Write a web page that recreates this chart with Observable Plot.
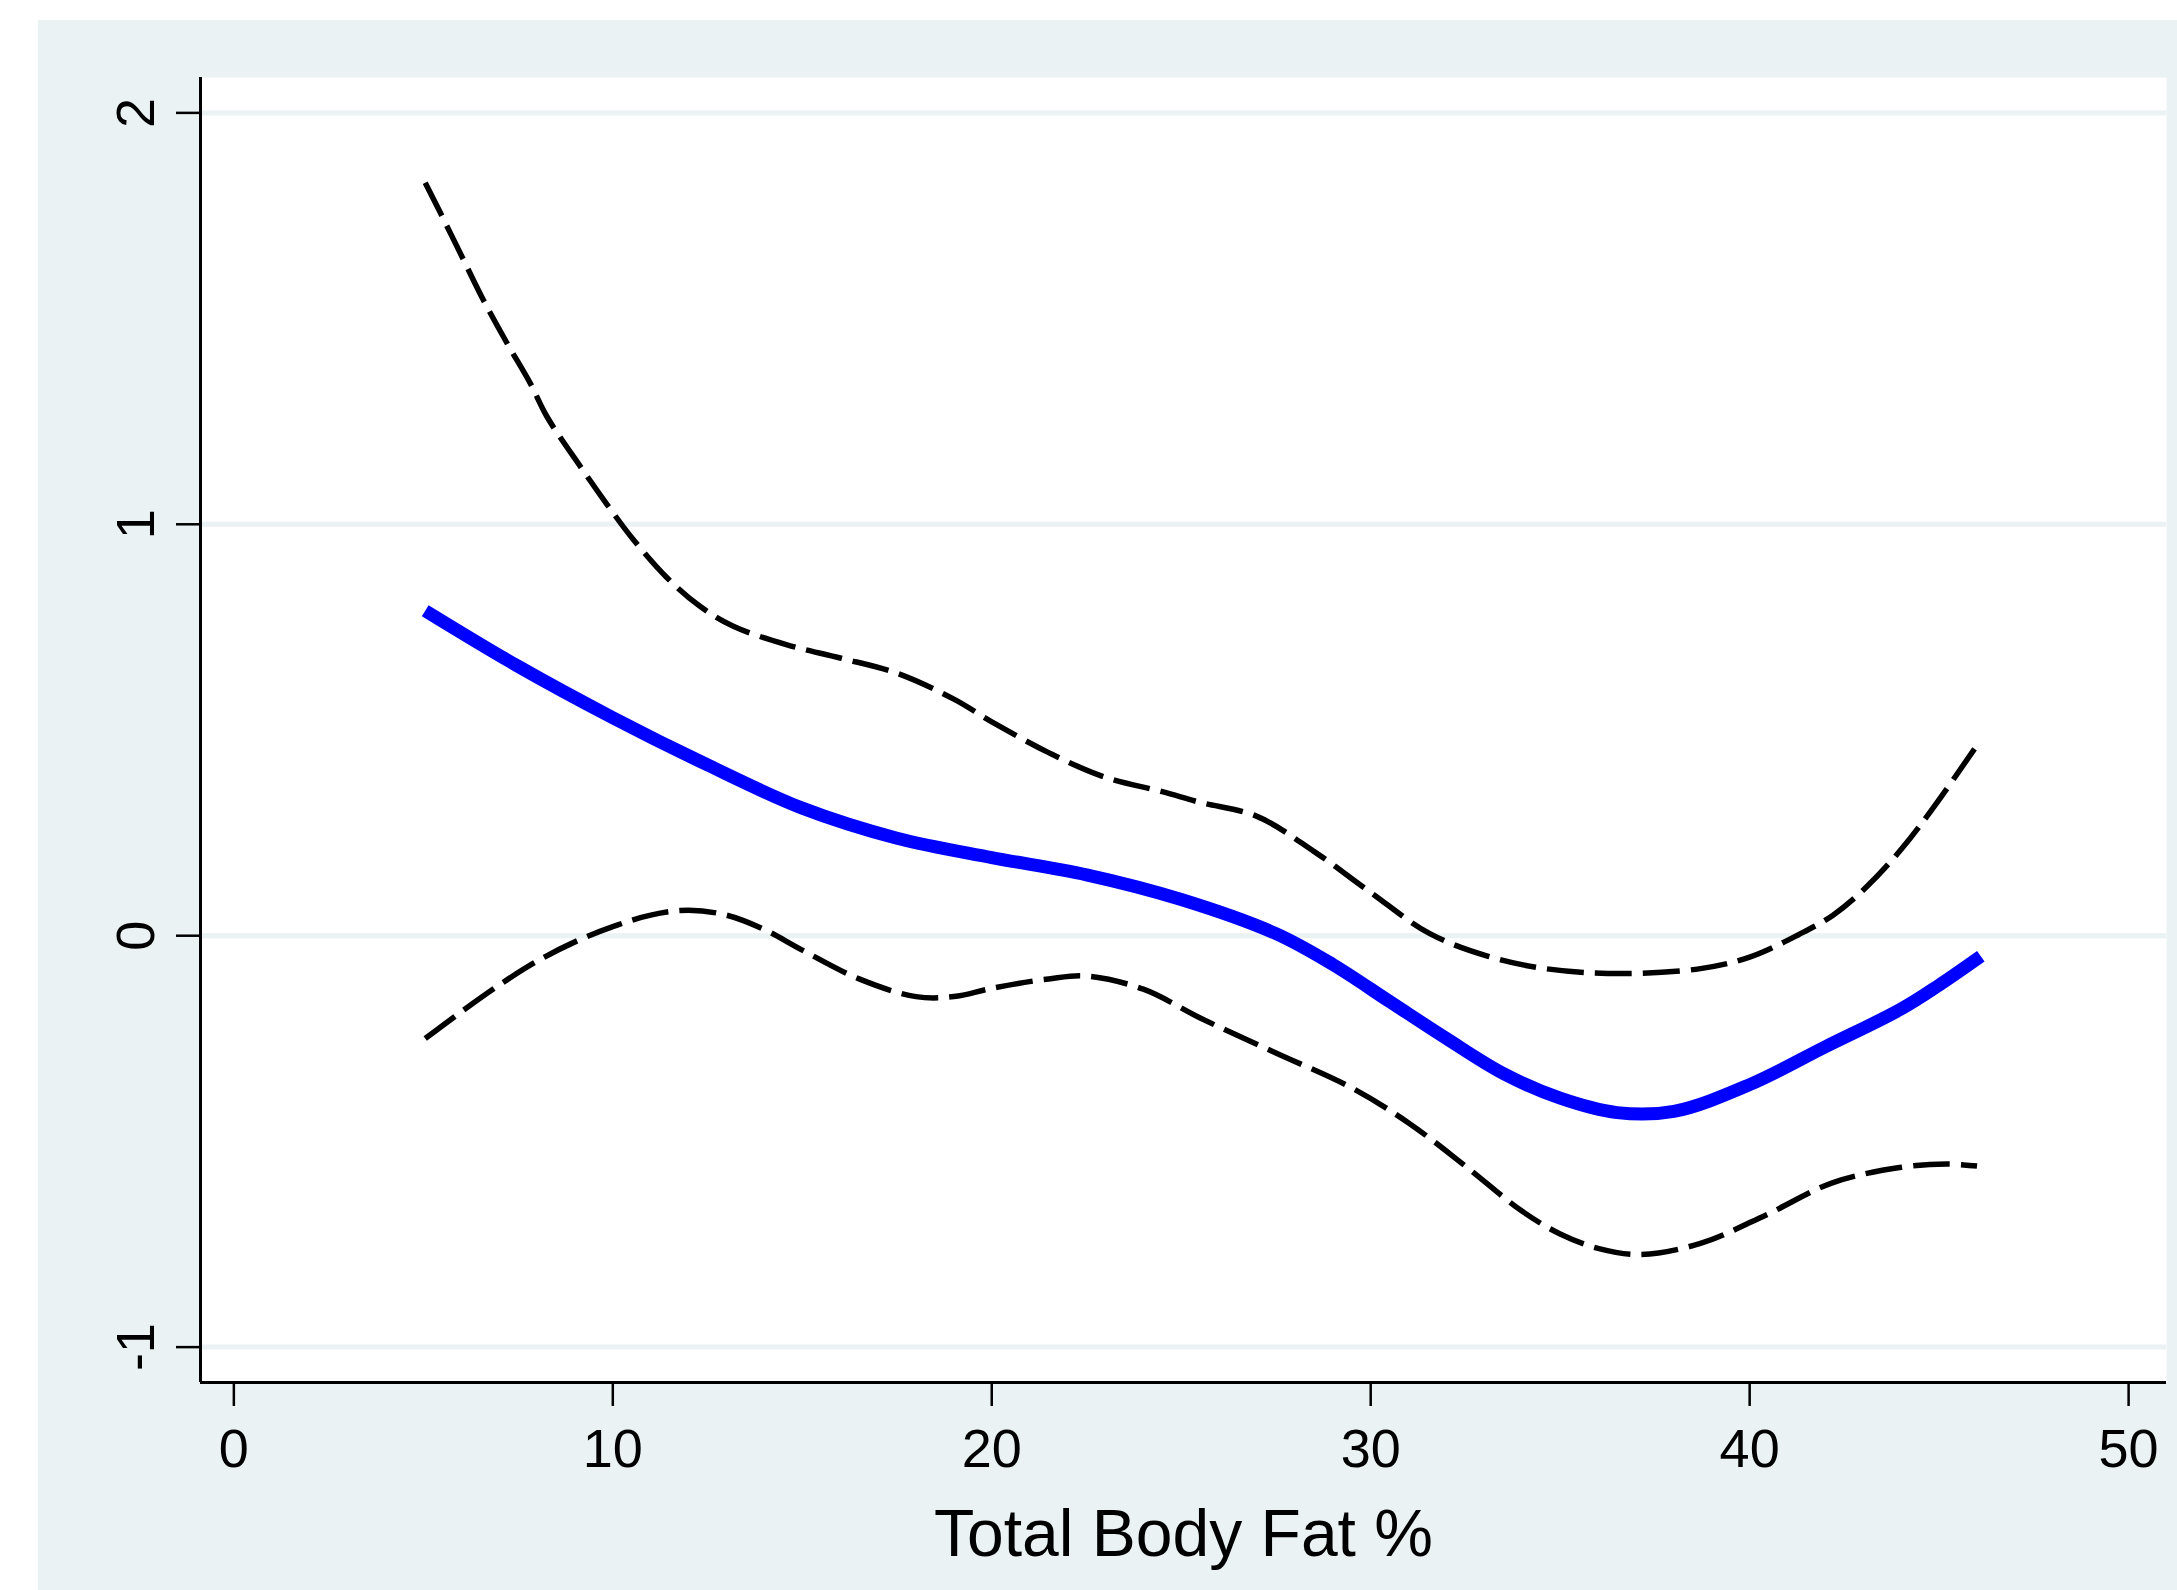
<!DOCTYPE html>
<html>
<head>
<meta charset="utf-8">
<script src="https://cdn.jsdelivr.net/npm/d3@7"></script>
<script src="https://cdn.jsdelivr.net/npm/@observablehq/plot@0.6"></script>
<style>
  html, body { margin: 0; padding: 0; background: #ffffff; }
  #bg { position: absolute; left: 38px; top: 20px; width: 2139px; height: 1570px; background: #eaf2f3; }
  #bg svg { display: block; }
</style>
</head>
<body>
<div id="bg"></div>
<script>
// Axis ticks and label
const xTicks = [0, 10, 20, 30, 40, 50];
const yTicks = [-1, 0, 1, 2];
const xLabel = "Total Body Fat %";
const xDomain = [-0.88, 51.0];
const yDomain = [-1.086, 2.086];

// Fitted curve (solid blue)
const fitX = [5.05, 7.5, 10, 12.5, 15, 17.5, 20, 22.5, 25, 27.5, 29, 30.5, 32, 33.5, 35, 36.5, 38, 40, 42, 44, 45, 46.1];
const fitY = [0.79, 0.655, 0.53, 0.415, 0.31, 0.237, 0.19, 0.148, 0.088, 0.005, -0.07, -0.16, -0.25, -0.335, -0.395, -0.43, -0.427, -0.362, -0.27, -0.178, -0.12, -0.05];

// Upper confidence band (dashed)
const upperX = [5.05, 5.45, 6.06, 6.58, 7.21, 7.82, 8.26, 9.14, 9.85, 10.54, 11.43, 12.31, 13.18, 14.6, 16, 17.5, 19, 20, 21.5, 23, 24.5, 25.5, 27, 28.5, 30, 31.56, 33.1, 34.6, 36.6, 38.7, 40, 41.3, 42.2, 43.1, 44, 44.9, 46];
const upperY = [1.83, 1.757, 1.643, 1.546, 1.44, 1.343, 1.262, 1.141, 1.048, 0.963, 0.87, 0.80, 0.752, 0.707, 0.675, 0.638, 0.575, 0.52, 0.445, 0.385, 0.35, 0.324, 0.29, 0.205, 0.105, 0.005, -0.05, -0.08, -0.092, -0.08, -0.052, 0.003, 0.05, 0.12, 0.21, 0.318, 0.463];

// Lower confidence band (dashed)
const lowerX = [5.05, 6, 7, 8, 9, 10, 11, 12, 13, 14, 15, 16.5, 18, 19, 20, 21.5, 22.5, 24, 25.5, 27.5, 29.5, 31, 32.5, 34, 35, 36, 37.1, 38.7, 40.45, 42.2, 44, 45.2, 46];
const lowerY = [-0.25, -0.185, -0.12, -0.062, -0.015, 0.022, 0.05, 0.062, 0.05, 0.015, -0.035, -0.105, -0.148, -0.148, -0.128, -0.105, -0.098, -0.13, -0.2, -0.285, -0.37, -0.455, -0.56, -0.67, -0.725, -0.76, -0.775, -0.748, -0.678, -0.6, -0.563, -0.555, -0.56];

const toRows = (xs, ys) => xs.map((x, i) => ({x, y: ys[i]}));
const fit = toRows(fitX, fitY);
const upper = toRows(upperX, upperY);
const lower = toRows(lowerX, lowerY);

const bgColor = "#eaf2f3";

const chart = Plot.plot({
  width: 2139,
  height: 1570,
  marginLeft: 162,
  marginTop: 57,
  marginRight: 11,
  marginBottom: 208,
  x: {domain: xDomain},
  y: {domain: yDomain},
  style: {background: "transparent", color: "black", fontFamily: "'Liberation Sans', Arial, Helvetica, sans-serif"},
  marks: [
    Plot.frame({fill: "white", stroke: "none"}),
    Plot.ruleY(yTicks, {stroke: bgColor, strokeWidth: 5}),
    Plot.line(upper, {x: "x", y: "y", stroke: "black", strokeWidth: 5.5, strokeDasharray: "37,11", strokeLinecap: "butt", curve: "catmull-rom"}),
    Plot.line(lower, {x: "x", y: "y", stroke: "black", strokeWidth: 5.5, strokeDasharray: "37,11", strokeLinecap: "butt", curve: "catmull-rom"}),
    Plot.line(fit, {x: "x", y: "y", stroke: "#0000ff", strokeWidth: 13, strokeLinecap: "butt", curve: "catmull-rom"}),
    Plot.ruleX([xDomain[0]], {stroke: "black", strokeWidth: 3}),
    Plot.ruleY([yDomain[0]], {stroke: "black", strokeWidth: 3}),
    Plot.axisX({ticks: xTicks, tickSize: 24, tickPadding: 22, fontSize: 54, strokeWidth: 2.5, label: null, tickFormat: d => String(d)}),
    Plot.axisY({ticks: yTicks, tickSize: 24, tickPadding: 23, tickRotate: -90, fontSize: 54, strokeWidth: 2.5, label: null, tickFormat: d => String(d)}),
    Plot.text([xLabel], {frameAnchor: "bottom", dy: 173, lineAnchor: "bottom", fontSize: 66, text: d => d})
  ]
});
document.getElementById("bg").appendChild(chart);
</script>
</body>
</html>
